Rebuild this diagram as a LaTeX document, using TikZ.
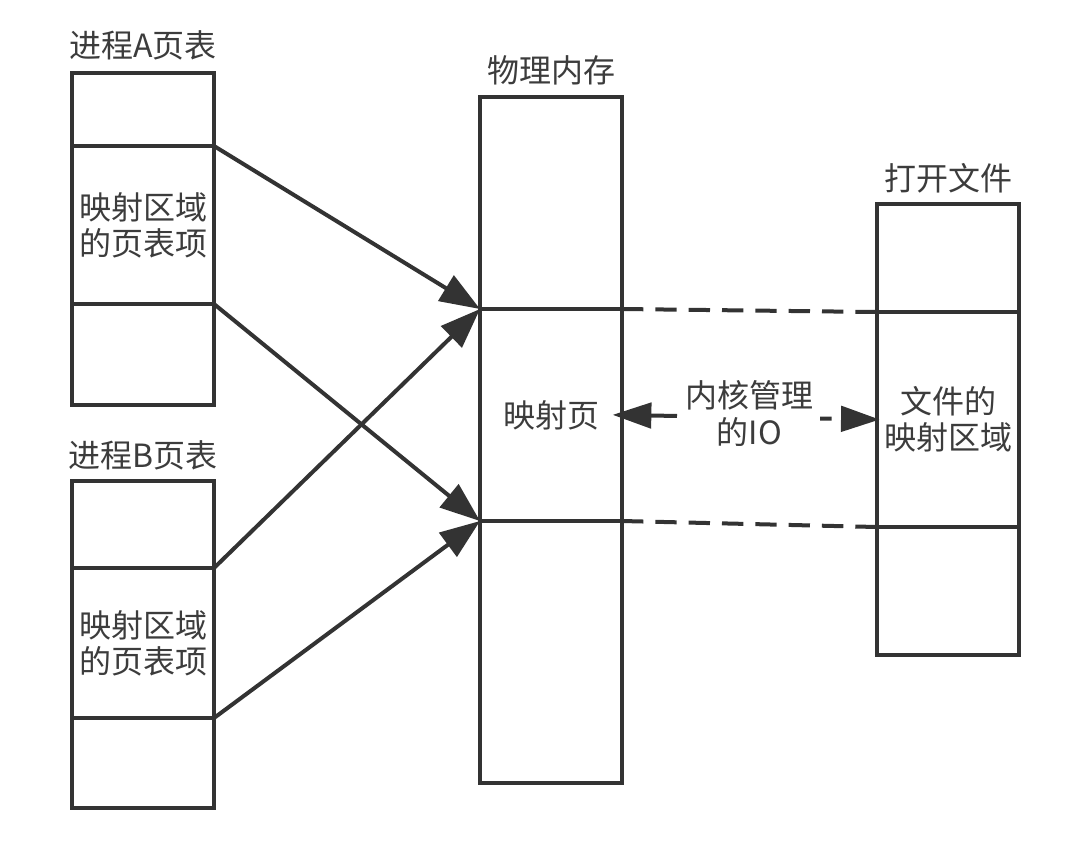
\documentclass[tikz,border=0pt]{standalone}
\usepackage{fontspec}
\newfontfamily\cjk{Noto Sans CJK SC}
\usetikzlibrary{arrows.meta}
\definecolor{lc}{HTML}{333333}
\definecolor{tc}{HTML}{3C3C3C}
\tikzset{
  cell/.style={draw=lc, line width=3pt, inner sep=0pt, outer sep=0pt, anchor=north west,
    align=center, text=tc, font=\cjk\fontsize{24}{27}\selectfont},
  title/.style={inner sep=0pt, text=tc, font=\cjk\fontsize{24}{27}\selectfont},
  conn/.style={draw=lc, line width=3pt, -{Triangle[length=30pt,width=22pt]}},
  dconn/.style={draw=lc, line width=3pt, dash pattern=on 16pt off 9pt},
}
\begin{document}
\begin{tikzpicture}[x=0.75pt,y=-0.75pt]
\useasboundingbox (0,0) rectangle (1080,840);
% Process A table
\node[cell, minimum width={142*0.75pt}, minimum height={73*0.75pt}]  (A1) at (72,73) {};
\node[cell, minimum width={142*0.75pt}, minimum height={158*0.75pt}] (A2) at (72,146) {映射区域\\的页表项};
\node[cell, minimum width={142*0.75pt}, minimum height={101*0.75pt}] (A3) at (72,304) {};
\node[title] (tA) at (143,45) {进程A页表};
% Process B table
\node[cell, minimum width={142*0.75pt}, minimum height={87*0.75pt}]  (B1) at (72,481) {};
\node[cell, minimum width={142*0.75pt}, minimum height={150*0.75pt}] (B2) at (72,568) {映射区域\\的页表项};
\node[cell, minimum width={142*0.75pt}, minimum height={90*0.75pt}]  (B3) at (72,718) {};
\node[title] (tB) at (143,455) {进程B页表};
% Physical memory
\node[cell, minimum width={142*0.75pt}, minimum height={212*0.75pt}] (M1) at (480,97) {};
\node[cell, minimum width={142*0.75pt}, minimum height={212*0.75pt}] (M2) at (480,309) {映射页};
\node[cell, minimum width={142*0.75pt}, minimum height={262*0.75pt}] (M3) at (480,521) {};
\node[title] (tM) at (551,70) {物理内存};
% Open file
\node[cell, minimum width={142*0.75pt}, minimum height={108*0.75pt}] (F1) at (877,204) {};
\node[cell, minimum width={142*0.75pt}, minimum height={215*0.75pt}] (F2) at (877,312) {文件的\\映射区域};
\node[cell, minimum width={142*0.75pt}, minimum height={128*0.75pt}] (F3) at (877,527) {};
\node[title] (tF) at (948,178) {打开文件};
% arrows
\draw[conn] (A2.north east) -- (M2.north west);
\draw[conn] (A2.south east) -- (M2.south west);
\draw[conn] (B2.north east) -- (M2.north west);
\draw[conn] (B2.south east) -- (M2.south west);
% dashed correspondences
\draw[dconn] (M2.north east) -- (F2.north west);
\draw[dconn] (M2.south east) -- (F2.south west);
% kernel IO
\draw[draw=lc, line width=3pt, dash pattern=on 20pt off 9pt,
  {Triangle[length=29pt,width=19pt]}-{Triangle[length=29pt,width=19pt]},
  shorten <=-7pt, shorten >=-2pt]
  (M2.east) -- (F2.west)
  node[midway, fill=white, inner xsep=5pt, inner ysep=2pt, align=center, text=tc,
       font=\cjk\fontsize{24}{28}\selectfont, yshift=3pt] (io) {内核管理\\的IO};
\end{tikzpicture}
\end{document}
